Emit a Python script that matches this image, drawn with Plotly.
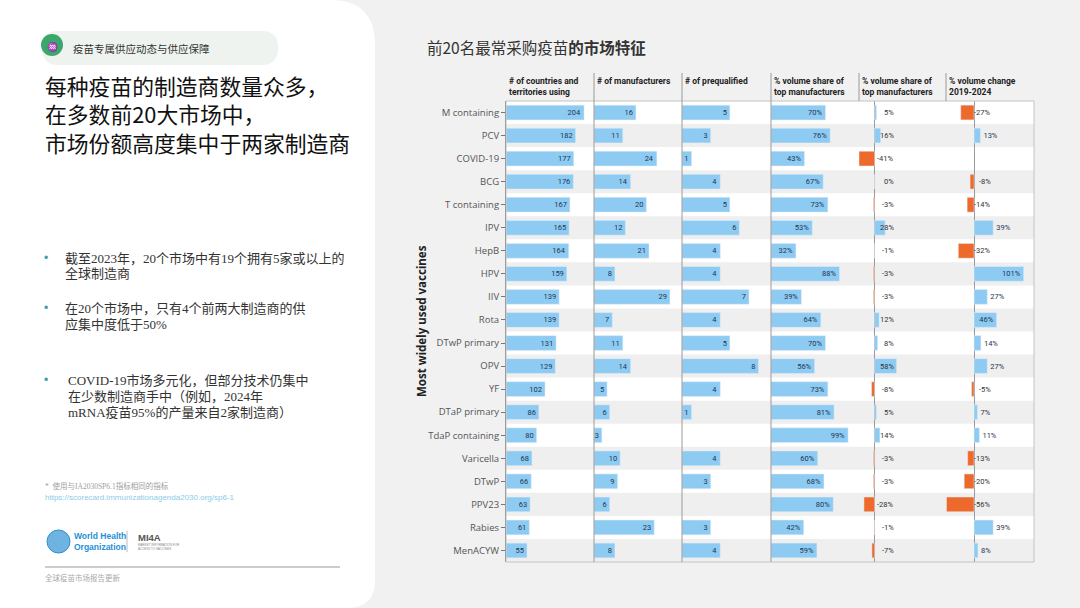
import plotly.graph_objects as go

W, H = 1080, 608

# data
vaccines = ["M containing", "PCV", "COVID-19", "BCG", "T containing", "IPV", "HepB", "HPV",
            "IIV", "Rota", "DTwP primary", "OPV", "YF", "DTaP primary", "TdaP containing",
            "Varicella", "DTwP", "PPV23", "Rabies", "MenACYW"]
countries = [204, 182, 177, 176, 167, 165, 164, 159, 139, 139, 131, 129, 102, 86, 80, 68, 66, 63, 61, 55]
manufacturers = [16, 11, 24, 14, 20, 12, 21, 8, 29, 7, 11, 14, 5, 6, 3, 10, 9, 6, 23, 8]
prequalified = [5, 3, 1, 4, 5, 6, 4, 4, 7, 4, 5, 8, 4, 1, None, 4, 3, None, 3, 4]
top_share = [70, 76, 43, 67, 73, 53, 32, 88, 39, 64, 70, 56, 73, 81, 99, 60, 68, 80, 42, 59]
share_change = [5, 16, -41, 0, -3, 28, -1, -3, -3, 12, 8, 58, -8, 5, 14, -3, -3, -28, -1, -7]
volume_change = [-27, 13, None, -8, -14, 39, -32, 101, 27, 46, 14, 27, -5, 7, 11, -13, -20, -56, 39, 8]
headers = ["# of countries and<br>territories using", "# of manufacturers", "# of prequalified",
           "% volume share of<br>top manufacturers", "% volume share of<br>top manufacturers",
           "% volume change<br>2019-2024"]

title_lines = ["每种疫苗的制造商数量众多，", "在多数前20大市场中，", "市场份额高度集中于两家制造商"]
bullets = [
    ["截至2023年，20个市场中有19个拥有5家或以上的", "全球制造商"],
    ["在20个市场中，只有4个前两大制造商的供", "应集中度低于50%"],
    ["COVID-19市场多元化，但部分技术仍集中", "在少数制造商手中（例如，2024年", "mRNA疫苗95%的产量来自2家制造商）"],
]

BLUE = "#8ecbf2"
ORANGE = "#ee6a2c"
TXT = "#1f3552"


def px(x):
    return x / W


def py(y):
    return 1 - y / H


def pt(x, y):
    return f"{px(x):.5f},{py(y):.5f}"


# column edges in pixels (layout)
edges = [506, 594, 682, 771, 859, 946, 1034]
top, bottom = 101, 562
ranges = [[0, 230], [0, 33.6], [0, 9.3], [0, 113], [-41, 188], [-57, 122]]

fig = go.Figure()

cols = [countries, manufacturers, prequalified, top_share, share_change, volume_change]
for i, vals in enumerate(cols):
    ax = "x" if i == 0 else f"x{i + 1}"
    if i < 4:
        fig.add_trace(go.Bar(
            x=vals, y=vaccines, orientation="h", xaxis=ax, yaxis="y",
            marker_color=BLUE,
            text=[("" if v is None else (f"{v}%" if i == 3 else str(v))) for v in vals],
            textposition="inside", insidetextanchor="end", textangle=0,
            textfont=dict(family="Roboto", size=7.5, color=TXT),
            hoverinfo="x+y"))
    else:
        colors = [ORANGE if (v is not None and v < 0) else BLUE for v in vals]
        if i == 5:
            txt = [f"{v}%" if (v is not None and v > 0) else "" for v in vals]
        else:
            txt = ["" for v in vals]
        fig.add_trace(go.Bar(
            x=vals, y=vaccines, orientation="h", xaxis=ax, yaxis="y",
            marker_color=colors, text=txt, textposition="auto", textangle=0,
            insidetextanchor="end",
            textfont=dict(family="Roboto", size=7.5, color=TXT),
            hoverinfo="x+y"))

shapes = []
# left white panel
shapes.append(dict(type="path", xref="paper", yref="paper", layer="below",
                   path=f"M {pt(0,0)} L {pt(330,0)} Q {pt(375,0)} {pt(375,45)} L {pt(375,580)} "
                        f"Q {pt(375,608)} {pt(347,608)} L {pt(0,608)} Z",
                   fillcolor="#ffffff", line=dict(width=0)))
# pill
shapes.append(dict(type="path", xref="paper", yref="paper", layer="below",
                   path=f"M {pt(58,31)} L {pt(262,31)} Q {pt(278,31)} {pt(278,48)} Q {pt(278,65)} {pt(262,65)} "
                        f"L {pt(58,65)} Q {pt(42,65)} {pt(42,48)} Q {pt(42,31)} {pt(58,31)} Z",
                   fillcolor="#eef3ef", line=dict(width=0)))
shapes.append(dict(type="circle", xref="paper", yref="paper",
                   x0=px(41), x1=px(63), y0=py(56), y1=py(34),
                   fillcolor="#3aa86a", line=dict(width=0)))
# row bands
for k in range(len(vaccines)):
    if k % 2 == 1:
        shapes.append(dict(type="rect", xref="paper", yref="y", layer="below",
                           x0=px(edges[0]), x1=px(edges[-1]), y0=k - 0.5, y1=k + 0.5,
                           fillcolor="#efefef", line=dict(width=0)))
# plot border
shapes.append(dict(type="rect", xref="paper", yref="paper",
                   x0=px(edges[0]), x1=px(edges[-1]), y0=py(bottom), y1=py(top),
                   line=dict(color="#c4c4c4", width=1)))
# column separators
for e in edges[1:4]:
    shapes.append(dict(type="line", xref="paper", yref="paper",
                       x0=px(e), x1=px(e), y0=py(73), y1=py(bottom),
                       line=dict(color="#9a9a9a", width=1)))
for e in edges[4:6]:
    shapes.append(dict(type="line", xref="paper", yref="paper",
                       x0=px(e), x1=px(e), y0=py(73), y1=py(top),
                       line=dict(color="#9a9a9a", width=1)))
# footer line, logo bits
shapes.append(dict(type="line", xref="paper", yref="paper",
                   x0=px(45), x1=px(340), y0=py(567), y1=py(567),
                   line=dict(color="#9a9a9a", width=1)))
shapes.append(dict(type="circle", xref="paper", yref="paper",
                   x0=px(47), x1=px(70), y0=py(553), y1=py(530),
                   fillcolor="#6fb3e0", line=dict(color="#2f8fd0", width=1)))
shapes.append(dict(type="line", xref="paper", yref="paper",
                   x0=px(127), x1=px(127), y0=py(531), y1=py(552),
                   line=dict(color="#bbbbbb", width=1)))

ann = []


def text(x, y, s, size, color="#222", family="Noto Sans CJK SC", xanchor="left",
         yanchor="middle", **kw):
    ann.append(dict(x=px(x), y=py(y), xref="paper", yref="paper", text=s, showarrow=False,
                    xanchor=xanchor, yanchor=yanchor, align="left",
                    font=dict(size=size, color=color, family=family), **kw))


# left panel text
text(71, 48, "疫苗专属供应动态与供应保障", 10.5, "#333")
text(52, 46, "♒", 9, "#ffffff", xanchor="center")
text(43, 114, "<br>".join(title_lines), 21.8, "#111")
serif = "Liberation Serif, Noto Sans CJK SC"
bullet_pos = [(63, 258), (63, 308), (66, 380)]
for lines, (bx, by) in zip(bullets, bullet_pos):
    text(46, by, "•", 12, "#3d9ea3", family="Liberation Sans", xanchor="center")
    for j, line in enumerate(lines):
        text(bx, by + 16 * j, line, 13, "#333", serif)
text(43, 486, "*  使用与IA2030SP6.1指标相同的指标", 7.5, "#a0a0a0", serif)
text(43, 497, "https://scorecard.immunizationagenda2030.org/sp6-1", 8, "#8ccbea", "Liberation Sans")
text(72, 541, "<b>World Health<br>Organization</b>", 8.5, "#1f8fd6", "Liberation Sans")
text(136, 537, "<b>MI4A</b>", 9.5, "#555", "Liberation Sans")
text(136, 547, "MARKET INFORMATION FOR<br>ACCESS TO VACCINES", 3, "#888", "Liberation Sans")
text(43, 578, "全球疫苗市场报告更新", 7.5, "#aaaaaa", serif)

# chart title, headers, axis title
text(425, 47, "前20名最常采购疫苗<b>的市场特征</b>", 15.5, "#333")
for i, h in enumerate(headers):
    text(edges[i] + 1, 74, f"<b>{h}</b>", 8.5, "#222", "Roboto", yanchor="top")
ann.append(dict(x=px(421), y=py(321), xref="paper", yref="paper", textangle=-90,
                text="<b>Most widely used vaccines</b>", showarrow=False,
                font=dict(size=11.5, color="#222", family="Noto Sans")))

# labels next to the zero line for the change columns
for v, name in zip(share_change, vaccines):
    ann.append(dict(x=0, y=name, xref="x5", yref="y", text=f"{v}%", showarrow=False,
                    xanchor="right", xshift=21,
                    font=dict(family="Roboto", size=7.5, color="#333")))
for v, name in zip(volume_change, vaccines):
    if v is not None and v <= 0:
        ann.append(dict(x=0, y=name, xref="x6", yref="y", text=f"{v}%", showarrow=False,
                        xanchor="right", xshift=19,
                        font=dict(family="Roboto", size=7.5, color="#333")))

layout = dict(
    width=W, height=H, margin=dict(l=0, r=0, t=0, b=0),
    paper_bgcolor="#f1f1f1", plot_bgcolor="#ffffff",
    showlegend=False, bargap=0.36,
    uniformtext=dict(minsize=7.5, mode="show"),
    shapes=shapes, annotations=ann,
    yaxis=dict(domain=[py(bottom), py(top)], anchor="x", type="category",
               categoryarray=vaccines, range=[len(vaccines) - 0.5, -0.5],
               showline=True, linecolor="#777", linewidth=1, ticks="outside",
               ticklen=4, tickcolor="#777", showgrid=False,
               tickfont=dict(family="Open Sans", size=9.5, color="#555")),
)
for i in range(6):
    key = "xaxis" if i == 0 else f"xaxis{i + 1}"
    layout[key] = dict(domain=[px(edges[i]), px(edges[i + 1])], anchor="y", range=ranges[i],
                       showticklabels=False, showgrid=False, ticks="",
                       zeroline=(i >= 4), zerolinecolor="#9a9a9a", zerolinewidth=1)

fig.update_layout(**layout)
fig.write_html("out.html", config={"displayModeBar": False},
               post_script="document.body.style.margin='0px';")
